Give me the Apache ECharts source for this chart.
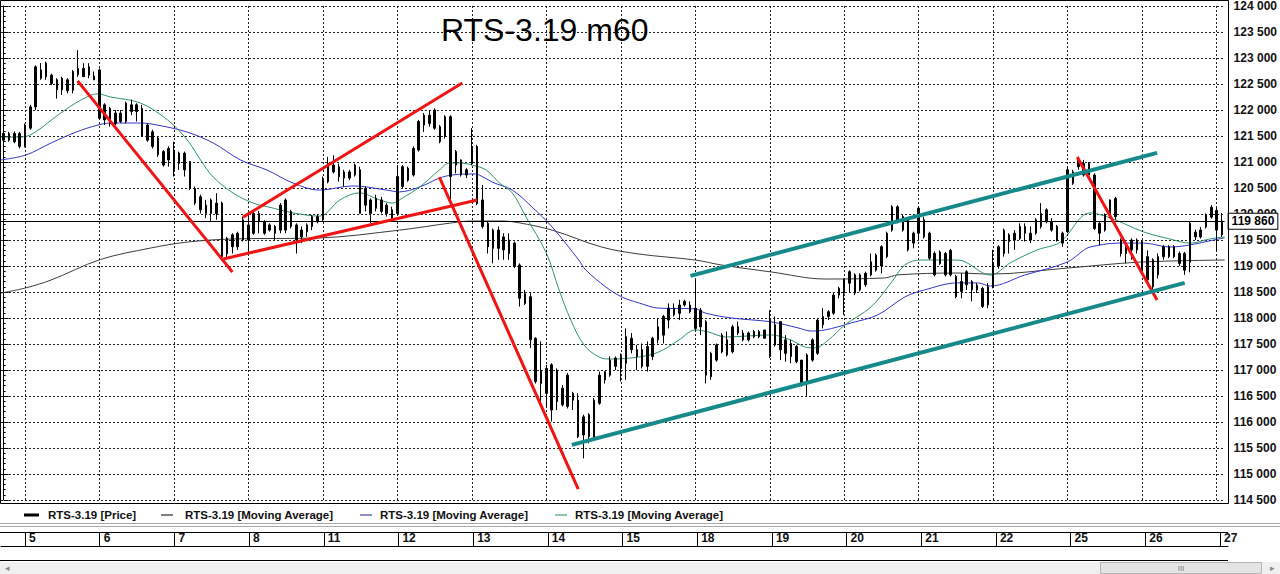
<!DOCTYPE html>
<html>
<head>
<meta charset="utf-8">
<title>RTS-3.19 m60</title>
<script src="https://cdn.jsdelivr.net/npm/echarts@6/dist/echarts.min.js"></script>
<style>
  html, body { margin: 0; padding: 0; background: #fff; }
  #chart { width: 1280px; height: 574px; }
</style>
</head>
<body>
<div id="chart"></div>
<script>
// ---- hourly session layout (February 2019) ----
const tradingDays = ['4', '5', '6', '7', '8', '11', '12', '13', '14', '15', '18', '19', '20', '21', '22', '25', '26', '27'];
const sessionHours = ['10:00', '11:00', '12:00', '13:00', '14:00', '15:00', '16:00', '17:00', '18:00', '19:00', '20:00', '21:00', '22:00', '23:00'];
const firstDayHours = sessionHours.slice(-4);   // tail of the 4th
const lastDayHours = sessionHours.slice(0, 2);  // start of the 27th

// ---- hourly candles: [open, close, low, high] ----
const candles = [
  [121550,121420,121390,121730],[121420,121550,121390,121580],[121550,121390,121360,121590],[121550,121300,121260,121580],
  // 5
  [121300,121710,121280,121740],[121650,122060,121620,122100],[122060,122830,122000,122860],[122770,122610,122580,122900],
  [122640,122900,122580,122930],[122670,122510,122480,122700],[122580,122390,122220,122610],[122390,122610,122290,122640],
  [122580,122370,122320,122610],[122380,122740,122320,122770],[122680,122800,122640,123150],[122800,122640,122640,122900],
  [122670,122830,122610,122900],[122650,122580,122580,122740],
  // 6
  [122770,121840,121810,122800],[121810,122100,121710,122130],[122030,121740,121680,122060],[121740,121940,121710,122000],
  [121940,121780,121750,122000],[121780,122130,121740,122160],[122100,121970,121900,122200],[121970,122100,121780,122130],
  [122030,121490,121490,122100],[121710,121420,121390,121740],[121580,121300,121260,121620],[121460,121140,121100,121490],
  [121200,120940,120910,121230],[121260,121040,120910,121300],
  // 7
  [121230,120850,120720,121390],[121170,120970,120850,121200],[121170,120850,120720,121200],[121010,120490,120460,121010],
  [120490,120210,120170,120530],[120330,120080,120010,120370],[120170,120010,119920,120270],[120270,120010,119850,120300],
  [120210,120010,119890,120400],[120210,119180,119150,120240],[119530,119240,119150,119560],[119600,119370,119240,119630],
  [119630,119370,119310,119660],[119500,119890,119470,119950],
  // 8
  [119790,119500,119240,120010],[119630,120010,119600,120050],[120010,119850,119630,120060],[119850,119630,119600,119880],
  [119690,119790,119660,119820],[119760,119630,119500,119790],[119690,120170,119630,120210],[120270,119690,119630,120300],
  [119760,120050,119720,120080],[119790,119500,119240,119820],[119560,119690,119440,119760],[119660,119790,119560,119820],
  [119760,119950,119690,119980],[119950,119850,119820,119980],
  // 11
  [119890,120650,119850,120720],[120620,120970,120590,121100],[120940,120810,120780,121130],[120910,120720,120620,120970],
  [120810,120690,120530,120850],[120690,120810,120650,120850],[120750,120940,120720,120970],[120850,120010,120010,120910],
  [120170,120490,120050,120530],[120270,120010,119820,120300],[120110,120300,120050,120370],[120270,120050,120010,120330],
  [120170,120010,119950,120210],[120080,119920,119850,120140],
  // 12
  [120010,120720,119980,120940],[120530,120910,120490,120940],[120880,120650,120620,120910],[120750,121260,120720,121300],
  [121230,121780,121200,121810],[121710,121900,121580,121940],[121900,121740,121680,122000],[121650,122000,121620,122030],
  [121680,121390,121360,121710],[121490,121870,121450,121900],[121870,120720,120270,121900],[120940,121200,120780,121230],
  [121040,120750,120720,121050],[120750,120850,120690,120880],
  // 13
  [120970,121300,120940,121650],[121300,120200,120170,121330],[120270,119760,119720,120560],[119820,119370,119240,119850],
  [119690,119340,119050,119720],[119340,119690,119120,119760],[119560,119310,119120,119630],[119500,119240,119120,119630],
  [119440,118990,118960,119470],[119020,118380,118220,119050],[118470,118280,118250,118540],[118410,117580,117420,118480],
  [117610,116780,116740,117630],[116740,117000,116330,117550],
  // 14
  [117030,116550,116300,117100],[117100,116230,116010,117130],[116390,117000,116230,117030],[116650,116330,116300,116710],
  [116300,116900,116260,116940],[116550,116420,116230,116580],[116420,115720,115690,116550],[115750,116100,115300,116140],
  [116140,115720,115590,116170],[115690,116420,115650,116460],[116360,116900,116330,116970],[116970,116810,116740,116970],
  [116900,117190,116870,117260],[117230,117070,117000,117260],
  // 15
  [117030,117260,116780,117320],[117130,117640,116810,117800],[117610,117390,117320,117710],[117390,117260,117000,117480],
  [117390,117070,117030,117510],[117070,117450,116970,117550],[117260,117610,117190,117640],[117580,117830,117510,117990],
  [117670,118030,117510,118060],[117960,118190,117800,118280],[118190,118060,118030,118280],[118090,118250,117960,118350],
  [118250,118320,118220,118350],[118250,118120,118090,118320],
  // 18
  [118190,117800,117770,118730],[117830,118150,117670,118190],[117930,116900,116740,117960],[116870,117320,116810,117350],
  [117190,117480,117160,117510],[117350,117670,117320,117710],[117580,117290,117260,117740],[117350,117830,117320,117870],
  [117830,117710,117670,117930],[117710,117580,117550,117770],[117580,117710,117550,117740],[117740,117640,117610,117770],
  [117640,117740,117610,117770],[117770,117610,117610,117770],
  // 19
  [117260,117960,117230,118150],[117870,117480,117450,118030],[117930,117390,117190,117930],[117320,117580,117160,117670],
  [117510,117260,117130,117580],[117450,117160,117130,117480],[117190,116740,116680,117190],[116740,117290,116490,117320],
  [117190,117580,117160,117610],[117320,117960,117290,117990],[117870,118030,117800,118190],[118030,118120,117960,118150],
  [118090,118440,118060,118480],[118440,118570,118380,118600],
  // 20
  [118480,118730,118060,118760],[118670,118890,118480,118920],[118830,118480,118440,118860],[118540,118830,118510,118860],
  [118860,118640,118600,118890],[118830,119080,118800,119240],[118920,119210,118890,119240],[119000,119370,118860,119400],
  [119180,119630,119150,119660],[119690,120140,119660,120170],[120140,119850,119820,120170],[119690,119950,119660,119980],
  [119890,119310,119280,119920],[119440,119630,119340,119660],
  // 21
  [119630,120110,119500,120140],[119890,119560,119530,119950],[119630,119150,119120,119660],[119240,118830,118800,119280],
  [119270,119050,119020,119300],[119240,118830,118800,119270],[118830,119300,118800,119330],[118800,118410,118380,118830],
  [118700,118510,118380,118860],[118640,118890,118540,118920],[118700,118540,118320,118730],[118540,118630,118480,118670],
  [118570,118220,118190,118600],[118250,118600,118190,118670],
  // 22
  [118600,119050,118570,119310],[119000,119370,118950,119400],[119240,119690,119180,119720],[119600,119470,119240,119630],
  [119500,119630,119310,119690],[119530,119760,119500,119820],[119760,119630,119470,119820],[119630,119500,119440,119760],
  [119630,119890,119600,119920],[119760,120010,119720,120210],[120080,119850,119820,120110],[119850,119690,119660,119920],
  [119760,119500,119470,119790],[119440,119630,119370,119660],
  // 25
  [119660,120850,119630,120910],[120810,120590,120560,120850],[120910,121040,120850,121100],[120970,120750,120720,121040],
  [120750,120970,120720,121000],[120750,119720,119690,120780],[119820,119630,119400,119850],[119690,119980,119660,120010],
  [119950,120270,119920,120280],[120300,119950,119890,120330],[119500,119240,119180,119530],[119240,119440,119050,119470],
  [119500,119310,119120,119530],[119310,119500,119240,119530],
  // 26
  [119470,118920,118890,119500],[119180,118730,118700,119300],[119120,118600,118540,119150],[118830,119180,118760,119240],
  [119180,119370,119120,119400],[119370,119180,119150,119400],[119180,119370,119150,119400],[119240,119050,119000,119280],
  [119240,118920,118830,119270],[119070,119820,118880,119850],[119650,119560,119500,119700],[119560,119690,119530,119750],
  [119750,119980,119720,120010],[119940,120130,119910,120170],
  // 27
  [120070,119690,119300,120120],[119600,119860,119560,120020]
];

const lastPrice = 119860;

// ---- moving averages: [bar position, price] ----
const maSlow = [
  [-0.5,118480],[4.2,118580],[8.9,118730],[18.2,119125],[27.6,119345],[34.5,119460],[43.1,119520],
  [59.4,119540],[74.4,119690],[84.3,119830],[88.1,119865],[93.7,119865],[96.9,119830],[103.1,119690],
  [112.4,119365],[119.4,119230],[130,119115],[134.9,119020],[144.3,118885],[154.4,118750],[165.6,118770],
  [168.1,118830],[179.3,118865],[185.5,118845],[199.9,118960],[213.6,119075],[229.5,119115]
];
const maMid = [
  [-0.5,121040],[4.2,121135],[8.9,121365],[13.6,121575],[17.7,121710],[20.1,121750],[25.7,121750],
  [28.9,121710],[34.5,121575],[39.4,121365],[44.5,121040],[49.5,120845],[54.4,120595],[59.4,120460],
  [65.6,120540],[72,120460],[74.4,120425],[78.2,120520],[81.9,120690],[84.3,120750],[88.1,120770],
  [89.4,120750],[91.8,120615],[95.6,120460],[99.3,120135],[103.1,119750],[108.1,119115],[109.4,118925],
  [113.2,118595],[116.2,118405],[119.4,118290],[123.1,118190],[130,118175],[131.9,118095],[136.8,118000],
  [144.3,117925],[149.3,117810],[151.8,117750],[154.4,117770],[159.3,117905],[164.3,118060],[169.4,118405],
  [173.1,118540],[179.3,118675],[183.1,118675],[185.5,118615],[191.9,118825],[199.9,119075],[203.1,119310],
  [204.2,119365],[209.3,119440],[214.3,119440],[219.2,119365],[223,119405],[227.4,119500],[229.5,119540]
];
const maFast = [
  [-0.5,121480],[3.3,121480],[5.7,121560],[10.7,121940],[14.5,122190],[17.7,122310],[20.1,122250],
  [25.7,122135],[30.8,121810],[34.5,121425],[37,121040],[39.4,120710],[43.1,120405],[46.9,120210],
  [50.6,120115],[54.4,120020],[59.4,119960],[63.2,120270],[66.9,120405],[70.7,120270],[73.1,120210],
  [75,120310],[78.2,120520],[81.9,120845],[83.8,120980],[85.7,120980],[88.1,120940],[90.7,120845],
  [93.2,120595],[95.6,120405],[98.2,119940],[102,119250],[104.4,118540],[106.6,117960],[109.1,117480],
  [111.9,117250],[114.1,117210],[119.4,117250],[123.1,117345],[126.9,117575],[130,117770],[132.5,117730],
  [135.7,117635],[140,117655],[144.3,117675],[148,117575],[150.7,117440],[152.5,117425],[155,117575],
  [158.1,117865],[163,118210],[166.8,118675],[169.4,119020],[172.4,119115],[179.3,119115],[185.5,118825],
  [189.2,119060],[194.3,119310],[198.6,119460],[204.2,120020],[208,119925],[214.3,119655],[219.2,119520],
  [223,119440],[226.7,119520],[229.5,119560]
];

// ---- hand-drawn trend lines: [[bar, price], [bar, price]] ----
const redTrendLines = [
  [[13.9,122560],[43.0,118885]],
  [[41.3,119135],[89.0,120270]],
  [[45.0,119940],[86.2,122520]],
  [[81.9,120710],[108.0,114710]],
  [[201.8,121095],[216.8,118345]]
];
const channelLines = [
  [[129.1,118810],[216.8,121175]],
  [[106.8,115560],[222.0,118675]]
];

// ---- axis settings ----
const priceMin = 114500, priceMax = 124000, priceStep = 500;

// ---- build category list ----
const barDay = [], barHour = [];
tradingDays.forEach((d, k) => {
  const hrs = k === 0 ? firstDayHours : (k === tradingDays.length - 1 ? lastDayHours : sessionHours);
  hrs.forEach(h => { barDay.push(d); barHour.push(h); });
});
const categories = barDay.map((d, i) => d + '.02 ' + barHour[i]);
const dayStarts = [];
barHour.forEach((h, i) => { if (h === sessionHours[0]) dayStarts.push(i); });
const isDayStart = (i) => barHour[i] === sessionHours[0];

const fmtPrice = v => String(v).replace(/\B(?=(\d{3})+(?!\d))/g, ' ');

const FONT = '"Liberation Sans", Arial, sans-serif';
const GRID_LEFT = 1, GRID_RIGHT = 52, PLOT_TOP = 6, PLOT_BOTTOM = 74;

const chart = echarts.init(document.getElementById('chart'), null, { renderer: 'svg', width: 1280, height: 574 });

const series = [];

// day separators inside the plot
series.push({
  type: 'line', xAxisIndex: 1, yAxisIndex: 0, data: [], z: 1, silent: true,
  markLine: {
    silent: true, symbol: ['none', 'none'], animation: false,
    label: { show: false },
    lineStyle: { color: '#222', width: 1, type: [2, 2] },
    data: dayStarts.map(i => ({ xAxis: i }))
  }
});

// candles
series.push({
  name: 'RTS-3.19 [Price]', type: 'candlestick', xAxisIndex: 0, yAxisIndex: 0, z: 5,
  data: candles, barWidth: 2,
  itemStyle: { color: '#000', color0: '#000', borderColor: '#000', borderColor0: '#000', borderWidth: 1 },
  markLine: {
    silent: true, symbol: ['none', 'none'], animation: false,
    lineStyle: { color: '#000', width: 1, type: 'solid' },
    label: {
      show: true, position: 'end', distance: 4, formatter: fmtPrice(lastPrice),
      fontFamily: FONT, fontSize: 12, fontWeight: 'bold', color: '#000',
      backgroundColor: '#fff', borderColor: '#000', borderWidth: 1, padding: [2, 3, 1, 3]
    },
    data: [{ yAxis: lastPrice }]
  }
});

// moving averages
[[maSlow, '#3c3c3c'], [maMid, '#3434cc'], [maFast, '#2f9468']].forEach(([d, c]) => {
  series.push({
    name: 'RTS-3.19 [Moving Average]', type: 'line', xAxisIndex: 1, yAxisIndex: 0, z: 3,
    data: d, smooth: 0.35, showSymbol: false, symbol: 'none', silent: true,
    lineStyle: { color: c, width: 1 }
  });
});

// trend lines
redTrendLines.forEach(seg => series.push({
  type: 'line', xAxisIndex: 1, yAxisIndex: 0, z: 6, data: seg, symbol: 'none', silent: true,
  lineStyle: { color: '#f01414', width: 3 }
}));
channelLines.forEach(seg => series.push({
  type: 'line', xAxisIndex: 1, yAxisIndex: 0, z: 6, data: seg, symbol: 'none', silent: true,
  lineStyle: { color: '#168a8a', width: 4 }
}));

// legend strip
const legendEntries = [
  { text: 'RTS-3.19 [Price]', color: '#000', width: 3, x1: 24, x2: 39, tx: 48 },
  { text: 'RTS-3.19 [Moving Average]', color: '#000', width: 1, x1: 161, x2: 173, tx: 185 },
  { text: 'RTS-3.19 [Moving Average]', color: '#1c1c8c', width: 1, x1: 360, x2: 372, tx: 380 },
  { text: 'RTS-3.19 [Moving Average]', color: '#1c8a6a', width: 1, x1: 555, x2: 567, tx: 575 }
];
const legendY = 515;
const graphics = [];
graphics.push({ type: 'rect', shape: { x: 0.5, y: 0.5, width: 1228, height: 503 }, style: { fill: 'none', stroke: '#000', lineWidth: 1 }, silent: true, z: 10 });
legendEntries.forEach(e => {
  graphics.push({ type: 'line', shape: { x1: e.x1, y1: legendY, x2: e.x2, y2: legendY }, style: { stroke: e.color, lineWidth: e.width }, silent: true });
  graphics.push({ type: 'text', style: { text: e.text, x: e.tx, y: legendY, font: 'bold 11.5px ' + FONT, fill: '#111', verticalAlign: 'middle' }, silent: true });
});
// separators around the date strip
graphics.push({ type: 'line', shape: { x1: 0, y1: 523.5, x2: 1280, y2: 523.5 }, style: { stroke: '#a8a8a8', lineWidth: 1 }, silent: true });
graphics.push({ type: 'line', shape: { x1: 0, y1: 526.5, x2: 1280, y2: 526.5 }, style: { stroke: '#a8a8a8', lineWidth: 1 }, silent: true });
graphics.push({ type: 'line', shape: { x1: 0, y1: 532.5, x2: 1228, y2: 532.5 }, style: { stroke: '#000', lineWidth: 1 }, silent: true });
graphics.push({ type: 'line', shape: { x1: 0, y1: 560.5, x2: 1228, y2: 560.5 }, style: { stroke: '#000', lineWidth: 1 }, silent: true });
// scroll bar
graphics.push({ type: 'rect', shape: { x: 0, y: 562, width: 1280, height: 12 }, style: { fill: '#f0f0f0' }, silent: true });
graphics.push({ type: 'text', style: { text: '◂', x: 5, y: 568, font: '9px ' + FONT, fill: '#888', verticalAlign: 'middle' }, silent: true });
graphics.push({ type: 'rect', shape: { x: 1100.5, y: 562.5, width: 161, height: 11 }, style: { fill: '#e4e4e4', stroke: '#b4b4b4', lineWidth: 1 }, silent: true });
graphics.push({ type: 'text', style: { text: 'III', x: 1181, y: 568, font: '8px ' + FONT, fill: '#777', align: 'center', verticalAlign: 'middle' }, silent: true });
graphics.push({ type: 'text', style: { text: '▸', x: 1270, y: 568, font: '9px ' + FONT, fill: '#888', verticalAlign: 'middle' }, silent: true });

const option = {
  animation: false,
  backgroundColor: '#fff',
  title: {
    text: 'RTS-3.19 m60', left: 441, top: 14, padding: 0,
    textStyle: { fontFamily: FONT, fontSize: 32, fontWeight: 'normal', color: '#000' }
  },
  grid: [
    { left: GRID_LEFT, right: GRID_RIGHT, top: PLOT_TOP, bottom: PLOT_BOTTOM },
    { left: GRID_LEFT, right: GRID_RIGHT, top: 532, height: 14 }
  ],
  xAxis: [
    { type: 'category', gridIndex: 0, data: categories, boundaryGap: true, show: false },
    { type: 'value', gridIndex: 0, min: -0.5, max: categories.length - 0.5, show: false },
    {
      type: 'category', gridIndex: 1, data: categories, boundaryGap: true, position: 'bottom',
      axisLine: { show: true, lineStyle: { color: '#000', width: 1 } },
      axisTick: { show: true, inside: true, length: 14, alignWithLabel: true, interval: isDayStart, lineStyle: { color: '#000' } },
      axisLabel: {
        show: true, inside: true, margin: 2, interval: isDayStart,
        formatter: (v, i) => barDay[i], align: 'left', padding: [0, 0, 0, 4],
        fontFamily: FONT, fontSize: 12, fontWeight: 'bold', color: '#111'
      },
      splitLine: { show: false }
    }
  ],
  yAxis: [
    {
      type: 'value', gridIndex: 0, position: 'right', min: priceMin, max: priceMax, interval: priceStep,
      axisLine: { show: true, lineStyle: { color: '#000', width: 1 } },
      axisTick: { show: true, length: 5, lineStyle: { color: '#000' } },
      minorTick: { show: true, splitNumber: 5, length: 2, lineStyle: { color: '#000' } },
      axisLabel: {
        show: true, margin: 9, formatter: fmtPrice, showMinLabel: true, showMaxLabel: true,
        fontFamily: FONT, fontSize: 12, fontWeight: 'bold', color: '#111'
      },
      splitLine: { show: true, lineStyle: { color: '#222', width: 1, type: [2, 2] } }
    },
    { type: 'value', gridIndex: 1, show: false, min: 0, max: 1 }
  ],
  graphic: graphics,
  series: series
};

chart.setOption(option);
</script>
</body>
</html>
